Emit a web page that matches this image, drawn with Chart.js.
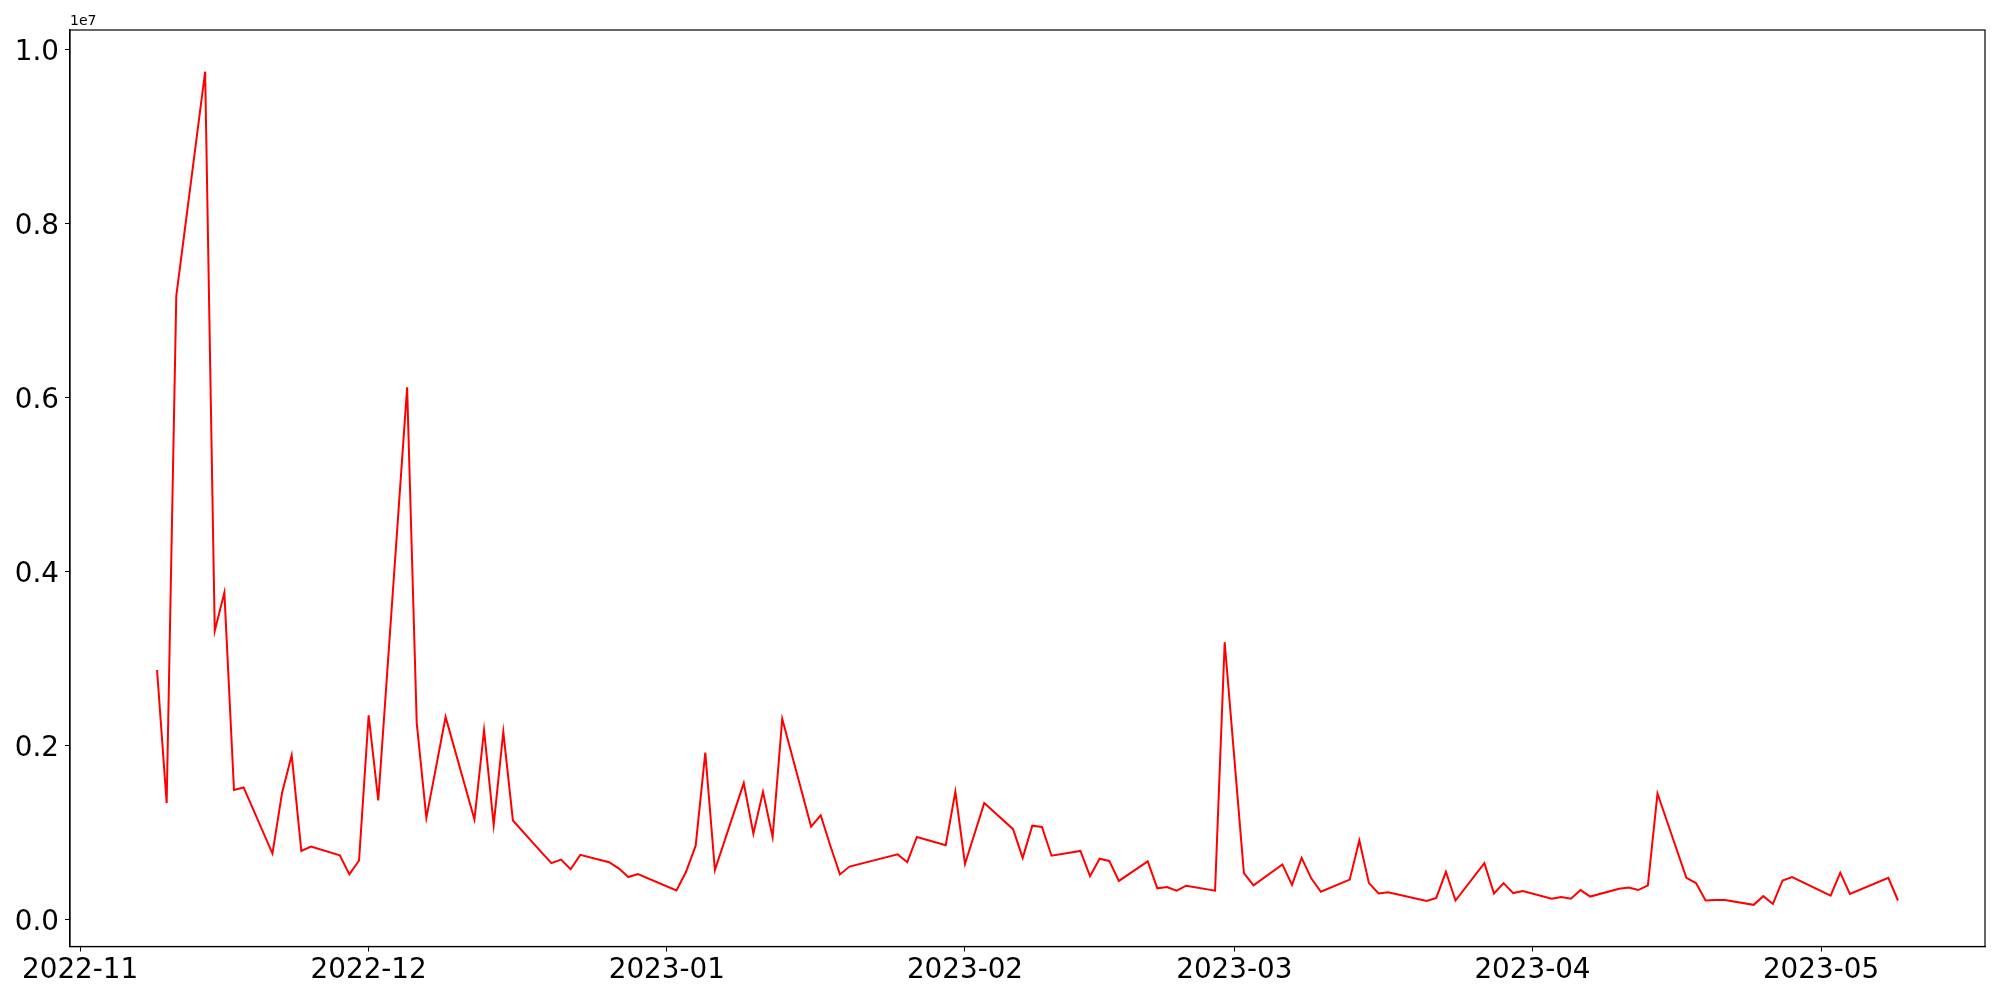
<!DOCTYPE html>
<html>
<head>
<meta charset="utf-8">
<script src="https://cdn.jsdelivr.net/npm/chart.js@4/dist/chart.umd.min.js"></script>
<style>
  body { margin: 0; background: #fff; }
  canvas { display: block; }
</style>
</head>
<body>
<canvas id="chart" width="2000" height="1000"></canvas>
<script>
// data
const dates = [
  "2022-11-09", "2022-11-10", "2022-11-11", "2022-11-14", "2022-11-15", "2022-11-16", "2022-11-17", "2022-11-18",
  "2022-11-21", "2022-11-22", "2022-11-23", "2022-11-24", "2022-11-25", "2022-11-28", "2022-11-29", "2022-11-30",
  "2022-12-01", "2022-12-02", "2022-12-05", "2022-12-06", "2022-12-07", "2022-12-09", "2022-12-12", "2022-12-13",
  "2022-12-14", "2022-12-15", "2022-12-16", "2022-12-19", "2022-12-20", "2022-12-21", "2022-12-22", "2022-12-23",
  "2022-12-26", "2022-12-27", "2022-12-28", "2022-12-29", "2023-01-02", "2023-01-03", "2023-01-04", "2023-01-05",
  "2023-01-06", "2023-01-09", "2023-01-10", "2023-01-11", "2023-01-12", "2023-01-13", "2023-01-16", "2023-01-17",
  "2023-01-18", "2023-01-19", "2023-01-20", "2023-01-25", "2023-01-26", "2023-01-27", "2023-01-30", "2023-01-31",
  "2023-02-01", "2023-02-03", "2023-02-06", "2023-02-07", "2023-02-08", "2023-02-09", "2023-02-10", "2023-02-13",
  "2023-02-14", "2023-02-15", "2023-02-16", "2023-02-17", "2023-02-20", "2023-02-21", "2023-02-22", "2023-02-23",
  "2023-02-24", "2023-02-27", "2023-02-28", "2023-03-02", "2023-03-03", "2023-03-06", "2023-03-07", "2023-03-08",
  "2023-03-09", "2023-03-10", "2023-03-13", "2023-03-14", "2023-03-15", "2023-03-16", "2023-03-17", "2023-03-21",
  "2023-03-22", "2023-03-23", "2023-03-24", "2023-03-27", "2023-03-28", "2023-03-29", "2023-03-30", "2023-03-31",
  "2023-04-03", "2023-04-04", "2023-04-05", "2023-04-06", "2023-04-07", "2023-04-10", "2023-04-11", "2023-04-12",
  "2023-04-13", "2023-04-14", "2023-04-17", "2023-04-18", "2023-04-19", "2023-04-20", "2023-04-21", "2023-04-24",
  "2023-04-25", "2023-04-26", "2023-04-27", "2023-04-28", "2023-05-02", "2023-05-03", "2023-05-04", "2023-05-08",
  "2023-05-09"
];
const values = [
  2.87e6, 1.34e6, 7.17e6, 9.75e6, 3.32e6, 3.76e6, 1.49e6, 1.52e6,
  0.76e6, 1.46e6, 1.89e6, 0.79e6, 0.84e6, 0.74e6, 0.52e6, 0.68e6,
  2.35e6, 1.37e6, 6.12e6, 2.26e6, 1.17e6, 2.33e6, 1.15e6, 2.18e6,
  1.09e6, 2.16e6, 1.14e6, 0.77e6, 0.65e6, 0.69e6, 0.58e6, 0.745e6,
  0.66e6, 0.59e6, 0.49e6, 0.525e6, 0.335e6, 0.55e6, 0.85e6, 1.92e6,
  0.57e6, 1.57e6, 0.99e6, 1.47e6, 0.95e6, 2.31e6, 1.07e6, 1.20e6,
  0.85e6, 0.52e6, 0.61e6, 0.75e6, 0.66e6, 0.95e6, 0.855e6, 1.47e6,
  0.64e6, 1.34e6, 1.04e6, 0.71e6, 1.08e6, 1.065e6, 0.735e6, 0.79e6,
  0.50e6, 0.70e6, 0.675e6, 0.445e6, 0.67e6, 0.36e6, 0.375e6, 0.333e6,
  0.39e6, 0.333e6, 3.19e6, 0.535e6, 0.395e6, 0.635e6, 0.40e6, 0.71e6,
  0.475e6, 0.32e6, 0.46e6, 0.91e6, 0.42e6, 0.30e6, 0.315e6, 0.215e6,
  0.25e6, 0.55e6, 0.22e6, 0.65e6, 0.30e6, 0.42e6, 0.305e6, 0.33e6,
  0.24e6, 0.26e6, 0.24e6, 0.34e6, 0.265e6, 0.355e6, 0.37e6, 0.34e6,
  0.395e6, 1.45e6, 0.48e6, 0.42e6, 0.22e6, 0.225e6, 0.225e6, 0.17e6,
  0.27e6, 0.18e6, 0.45e6, 0.49e6, 0.275e6, 0.54e6, 0.295e6, 0.48e6,
  0.22e6
];
const monthTicks = ["2022-11-01", "2022-12-01", "2023-01-01", "2023-02-01", "2023-03-01", "2023-04-01", "2023-05-01"];
const yTicks = [0, 2e6, 4e6, 6e6, 8e6, 1e7];

const toTime = (s) => Date.parse(s + "T00:00:00Z");
const FONT = "'DejaVu Sans', sans-serif";

// matplotlib-like 5% margins
const times = dates.map(toTime);
const tMin = Math.min(...times), tMax = Math.max(...times);
const vMin = Math.min(...values), vMax = Math.max(...values);
const xPad = (tMax - tMin) * 0.05, yPad = (vMax - vMin) * 0.05;

// box around the plot + offset text
const frame = {
  id: "frame",
  afterDraw(chart) {
    const { ctx, chartArea: a } = chart;
    ctx.save();
    ctx.strokeStyle = "#000";
    ctx.lineWidth = 1.2;
    ctx.strokeRect(a.left, a.top, a.right - a.left, a.bottom - a.top);
    ctx.fillStyle = "#000";
    ctx.font = "14px " + FONT;
    ctx.textAlign = "left";
    ctx.textBaseline = "alphabetic";
    ctx.fillText("1e7", a.left, a.top - 5);
    ctx.restore();
  },
};

new Chart(document.getElementById("chart"), {
  type: "line",
  data: {
    datasets: [{
      data: dates.map((d, i) => ({ x: toTime(d), y: values[i] })),
      borderColor: "#ff0000",
      borderWidth: 2,
      pointRadius: 0,
      tension: 0,
      fill: false,
    }],
  },
  options: {
    responsive: false,
    animation: false,
    layout: { padding: { top: 30, right: 15, left: 0, bottom: 0 } },
    plugins: { legend: { display: false }, tooltip: { enabled: false } },
    scales: {
      x: {
        type: "linear",
        min: tMin - xPad,
        max: tMax + xPad,
        afterBuildTicks: (s) => { s.ticks = monthTicks.map((m) => ({ value: toTime(m) })); },
        afterFit: (s) => { s.height = 53.5; },
        ticks: {
          autoSkip: false,
          maxRotation: 0,
          padding: 3,
          color: "#000",
          font: { family: FONT, size: 27.8 },
          callback: (v) => {
            const d = new Date(v);
            return d.getUTCFullYear() + "-" + String(d.getUTCMonth() + 1).padStart(2, "0");
          },
        },
        grid: { drawOnChartArea: false, tickLength: 5, color: "#000" },
        border: { color: "#000", width: 1.2 },
      },
      y: {
        min: vMin - yPad,
        max: vMax + yPad,
        afterBuildTicks: (s) => { s.ticks = yTicks.map((v) => ({ value: v })); },
        afterFit: (s) => { s.width = 70; },
        ticks: {
          padding: 6,
          labelOffset: 3,
          color: "#000",
          font: { family: FONT, size: 27.8 },
          callback: (v) => (v / 1e7).toFixed(1),
        },
        grid: { drawOnChartArea: false, tickLength: 5, color: "#000" },
        border: { color: "#000", width: 1.2 },
      },
    },
  },
  plugins: [frame],
});
</script>
</body>
</html>
